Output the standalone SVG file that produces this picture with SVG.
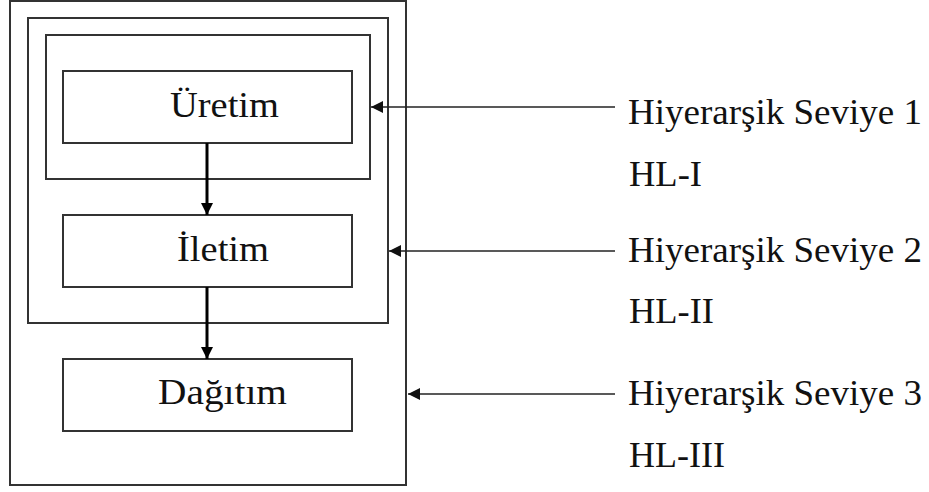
<svg xmlns="http://www.w3.org/2000/svg" width="929" height="492" viewBox="0 0 929 492">
  <style>
    .box { fill: none; stroke: #333; stroke-width: 2; }
    .node { fill: #fff; stroke: #333; stroke-width: 2; }
    .lbl { font-family: 'Liberation Serif', serif; font-size: 35px; fill: #111; }
    .flow { stroke: #000; stroke-width: 3; fill: none; }
    .lead { stroke: #222; stroke-width: 1.6; fill: none; }
  </style>
  <defs>
    <marker id="headDown" markerUnits="userSpaceOnUse" markerWidth="14" markerHeight="12" refX="12" refY="6" orient="auto">
      <path d="M0,0 L12,6 L0,12 z" fill="#000"/>
    </marker>
    <marker id="headLeft" markerUnits="userSpaceOnUse" markerWidth="14" markerHeight="12" refX="12" refY="6" orient="auto">
      <path d="M0,0 L12,6 L0,12 z" fill="#111"/>
    </marker>
  </defs>

  <rect width="929" height="492" fill="#fff"/>

  <!-- nested level frames -->
  <g id="level3-frame"><rect class="box" x="10" y="1" width="396" height="484"/></g>
  <g id="level2-frame"><rect class="box" x="28" y="18" width="360" height="305"/></g>
  <g id="level1-frame"><rect class="box" x="46" y="35" width="324" height="144"/></g>

  <!-- process nodes -->
  <g id="uretim">
    <rect class="node" x="63" y="71" width="289" height="72"/>
    <text class="lbl" font-family="Liberation Serif" x="170" y="117" textLength="109" lengthAdjust="spacingAndGlyphs">Üretim</text>
  </g>
  <g id="iletim">
    <rect class="node" x="63" y="215" width="289" height="72"/>
    <text class="lbl" font-family="Liberation Serif" x="177" y="261" textLength="92" lengthAdjust="spacingAndGlyphs">İletim</text>
  </g>
  <g id="dagitim">
    <rect class="node" x="63" y="359" width="289" height="72"/>
    <text class="lbl" font-family="Liberation Serif" x="158" y="404" textLength="129" lengthAdjust="spacingAndGlyphs">Dağıtım</text>
  </g>

  <!-- level labels -->
  <g id="label-hl1">
    <text class="lbl" font-family="Liberation Serif" x="628" y="124" textLength="294" lengthAdjust="spacingAndGlyphs">Hiyerarşik Seviye 1</text>
    <text class="lbl" font-family="Liberation Serif" x="629" y="186" textLength="73" lengthAdjust="spacingAndGlyphs">HL-I</text>
  </g>
  <g id="label-hl2">
    <text class="lbl" font-family="Liberation Serif" x="628" y="262" textLength="294" lengthAdjust="spacingAndGlyphs">Hiyerarşik Seviye 2</text>
    <text class="lbl" font-family="Liberation Serif" x="629" y="323" textLength="85" lengthAdjust="spacingAndGlyphs">HL-II</text>
  </g>
  <g id="label-hl3">
    <text class="lbl" font-family="Liberation Serif" x="628" y="405" textLength="294" lengthAdjust="spacingAndGlyphs">Hiyerarşik Seviye 3</text>
    <text class="lbl" font-family="Liberation Serif" x="629" y="467" textLength="96" lengthAdjust="spacingAndGlyphs">HL-III</text>
  </g>

  <!-- connectors -->
  <g id="connectors">
    <line class="flow" x1="207" y1="143" x2="207" y2="215" marker-end="url(#headDown)"/>
    <line class="flow" x1="207" y1="287" x2="207" y2="359" marker-end="url(#headDown)"/>
    <line class="lead" x1="615" y1="107" x2="371" y2="107" marker-end="url(#headLeft)"/>
    <line class="lead" x1="615" y1="251" x2="389" y2="251" marker-end="url(#headLeft)"/>
    <line class="lead" x1="615" y1="394" x2="408" y2="394" marker-end="url(#headLeft)"/>
  </g>
</svg>
